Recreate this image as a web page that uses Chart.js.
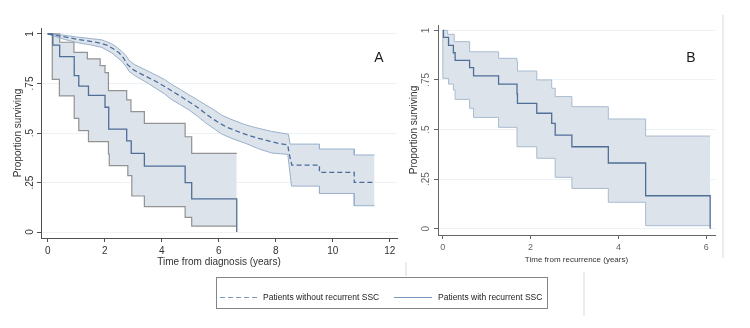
<!DOCTYPE html>
<html lang="en">
<head>
<meta charset="UTF-8">
<title>Survival by recurrence of SSC</title>
<style>
	body {
		margin: 0;
		width: 750px;
		height: 328px;
		position: relative;
		overflow: hidden;
		background: #fff;
		font-family: "Liberation Sans", Arial, sans-serif;
	}
	canvas { position: absolute; top: 0; }
	#chartA { left: 0; }
	#chartB { left: 400px; }
	.tag {
		position: absolute;
		font-size: 14px;
		color: #1a1a1a;
		transform: translate(-50%, -50%);
	}
	.rule { position: absolute; width: 2px; background: #e9edef; }
	.legend {
		position: absolute;
		left: 216px;
		top: 277px;
		width: 332px;
		height: 32px;
		box-sizing: border-box;
		border: 1px solid #858585;
		font-size: 8.5px;
		color: #222;
	}
	.legend span { position: absolute; top: 14px; line-height: 10px; white-space: nowrap; }
	.legend i { position: absolute; top: 19px; height: 1px; }
	.dash { background: repeating-linear-gradient(90deg, #7b98c0 0 5px, transparent 5px 8px); }
	.solid { background: #7896bd; }
</style>
<script src="https://cdn.jsdelivr.net/npm/chart.js"></script>
</head>
<body>
<canvas id="chartA" width="400" height="280"></canvas>
<canvas id="chartB" width="330" height="280"></canvas>
<div class="tag" style="left:379px; top:57px;">A</div>
<div class="tag" style="left:691px; top:57px;">B</div>
<div class="rule" style="left:722px; top:15px; height:243px;"></div>
<div class="rule" style="left:405px; top:262px; height:14px;"></div>
<div class="rule" style="left:583px; top:272px; height:44px;"></div>
<div class="legend">
	<i class="dash" style="left:3px; width:39px;"></i>
	<span style="left:46px;">Patients without recurrent SSC</span>
	<i class="solid" style="left:177px; width:38px;"></i>
	<span style="left:221px;">Patients with recurrent SSC</span>
</div>
<script>
	const FONT = '"Liberation Sans", Arial, sans-serif';

	// Panel A, patients without recurrent SSC (time from diagnosis, years)
	// many small steps, so corners are read as a traced outline; the tail steps are explicit
	const noRecTime  = [0, 0.3, 0.6, 1.0, 1.4, 1.8, 2.1, 2.3, 2.5, 2.65, 2.8, 3.0, 3.2, 3.5, 3.8, 4.1, 4.4, 4.7, 4.95, 5.25, 5.5, 5.75, 6.0, 6.3, 6.7, 7.0, 7.4, 7.8, 8.1, 8.42, 8.46, 8.52, 8.56, 9.53, 9.53, 10.75, 10.75, 11.46];
	const noRecSurv  = [1, 0.993, 0.985, 0.974, 0.965, 0.955, 0.942, 0.925, 0.905, 0.88, 0.845, 0.82, 0.803, 0.782, 0.76, 0.735, 0.708, 0.682, 0.658, 0.63, 0.602, 0.575, 0.552, 0.528, 0.506, 0.49, 0.473, 0.458, 0.447, 0.44, 0.40, 0.365, 0.338, 0.338, 0.301, 0.301, 0.251, 0.251];
	const noRecUpTime = [0, 0.5, 1.0, 1.5, 1.9, 2.25, 2.45, 2.6, 2.75, 2.85, 3.05, 3.3, 3.55, 3.8, 4.1, 4.35, 4.65, 4.95, 5.25, 5.55, 5.85, 6.1, 6.5, 6.9, 7.3, 7.85, 8.44, 8.5, 9.53, 9.53, 10.75, 10.75, 11.46];
	const noRecUp     = [1, 0.995, 0.985, 0.977, 0.97, 0.95, 0.93, 0.912, 0.89, 0.868, 0.845, 0.828, 0.81, 0.792, 0.77, 0.745, 0.72, 0.693, 0.668, 0.641, 0.615, 0.59, 0.565, 0.543, 0.527, 0.508, 0.494, 0.444, 0.444, 0.419, 0.419, 0.389, 0.389];
	const noRecLoTime = [0, 0.2, 0.6, 1.07, 1.5, 1.9, 2.25, 2.45, 2.6, 2.75, 2.85, 3.05, 3.3, 3.55, 3.8, 4.1, 4.35, 4.65, 4.95, 5.25, 5.55, 5.85, 6.1, 6.5, 6.92, 7.4, 7.86, 8.42, 8.47, 8.55, 9.53, 9.53, 10.75, 10.75, 11.46];
	const noRecLo     = [1, 0.99, 0.972, 0.955, 0.945, 0.932, 0.904, 0.88, 0.862, 0.835, 0.812, 0.79, 0.769, 0.748, 0.725, 0.697, 0.668, 0.643, 0.617, 0.585, 0.55, 0.52, 0.495, 0.47, 0.449, 0.42, 0.399, 0.392, 0.33, 0.232, 0.232, 0.195, 0.195, 0.133, 0.133];

	// Panel A, patients with recurrent SSC
	const recTime   = [0, 0.18, 0.42, 0.93, 1.09, 1.43, 2.01, 2.14, 2.77, 2.93, 3.39, 4.82, 5.05, 6.63];
	const recSurv   = [1, 0.944, 0.886, 0.79, 0.737, 0.69, 0.63, 0.52, 0.46, 0.397, 0.333, 0.25, 0.167, 0];
	const recUpTime = [0, 0.42, 0.92, 1.39, 1.84, 2.01, 2.13, 2.77, 2.92, 3.39, 4.82, 5.05, 6.63];
	const recUp     = [1, 0.958, 0.907, 0.874, 0.84, 0.805, 0.714, 0.667, 0.608, 0.549, 0.481, 0.397, 0.397];
	const recLoTime = [0, 0.16, 0.41, 0.93, 1.09, 1.43, 2.13, 2.16, 2.81, 2.95, 3.39, 4.82, 5.05, 6.63];
	const recLo     = [1, 0.771, 0.687, 0.574, 0.512, 0.456, 0.394, 0.335, 0.285, 0.182, 0.128, 0.074, 0.03, 0.03];

	// Panel B, time from recurrence (years)
	const bTime   = [0, 0.015, 0.13, 0.24, 0.28, 0.61, 0.70, 1.27, 1.69, 1.70, 2.14, 2.48, 2.56, 2.94, 3.77, 4.62, 6.09];
	const bSurv   = [1, 0.965, 0.924, 0.887, 0.849, 0.812, 0.77, 0.729, 0.679, 0.632, 0.582, 0.531, 0.472, 0.413, 0.331, 0.166, 0];
	const bUpTime = [0, 0.11, 0.26, 0.61, 1.27, 1.69, 1.70, 2.14, 2.48, 2.56, 2.94, 3.77, 4.62, 6.09];
	const bUp     = [1, 0.98, 0.943, 0.892, 0.859, 0.842, 0.795, 0.75, 0.708, 0.666, 0.615, 0.553, 0.467, 0.467];
	const bLoTime = [0, 0, 0.13, 0.24, 0.28, 0.61, 0.70, 1.27, 1.69, 2.14, 2.56, 2.94, 3.77, 4.62, 6.09];
	const bLo     = [1, 0.758, 0.729, 0.699, 0.652, 0.607, 0.561, 0.511, 0.413, 0.355, 0.259, 0.203, 0.133, 0.015, 0.015];

	const yTicks = [0, 0.25, 0.5, 0.75, 1];
	const xTicksA = [0, 2, 4, 6, 8, 10, 12];
	const xTicksB = [0, 2, 4, 6];

	const BAND = '#dde3ea';

	function pts(xs, ys) {
		return xs.map((x, i) => ({x: x, y: ys[i]}));
	}

	function step(xs, ys, color, extra) {
		return Object.assign({
			data: pts(xs, ys),
			stepped: 'before',
			borderColor: color,
			borderWidth: 1,
			pointRadius: 0,
			fill: false,
			order: 1
		}, extra || {});
	}

	function yLabel(v) {
		if (v === 0 || v === 1) return String(v);
		return String(v).replace(/^0/, '');
	}

	function makeScales(c) {
		return {
			x: {
				type: 'linear',
				min: c.xMin,
				max: c.xMax,
				afterBuildTicks: s => { s.ticks = c.xTicks.map(v => ({value: v})); },
				afterFit: s => { s.height = c.xHeight; },
				grid: { drawOnChartArea: false, tickLength: 4, tickColor: c.axis },
				border: { color: c.axis, width: 1 },
				ticks: { autoSkip: false, maxRotation: 0, padding: 3, color: c.tickColor, font: { family: FONT, size: c.xTickSize } },
				title: { display: true, text: c.xTitle, color: '#333', font: { family: FONT, size: c.xTitleSize }, padding: { top: 0, bottom: c.xTitlePad } }
			},
			y: {
				type: 'linear',
				min: c.yMin,
				max: c.yMax,
				afterBuildTicks: s => { s.ticks = yTicks.map(v => ({value: v})); },
				afterFit: s => { s.width = c.yWidth; },
				grid: { color: '#edf2f4', tickLength: 4, tickColor: c.axis },
				border: { color: c.axis, width: 1 },
				ticks: {
					autoSkip: false, minRotation: 90, maxRotation: 90, crossAlign: 'center',
					padding: c.yTickPad, color: c.tickColor, font: { family: FONT, size: 10 },
					callback: v => yLabel(v)
				},
				title: { display: true, text: 'Proportion surviving', color: '#333', font: { family: FONT, size: 10 }, padding: { top: c.yTitlePad, bottom: 0 } }
			}
		};
	}

	function baseOptions(scales, pad) {
		return {
			responsive: false,
			animation: false,
			layout: { padding: pad },
			plugins: {
				legend: { display: false },
				tooltip: { enabled: false },
				filler: { drawTime: 'beforeDatasetsDraw' }
			},
			scales: scales
		};
	}

	new Chart(document.getElementById('chartA'), {
		type: 'line',
		data: {
			datasets: [
				step(noRecLoTime, noRecLo, '#98b0cd', { stepped: false }),
				step(noRecUpTime, noRecUp, '#98b0cd', { stepped: false, fill: 0, backgroundColor: BAND }),
				step(noRecTime, noRecSurv, '#4a6d9c', { stepped: false, borderWidth: 1.3, borderDash: [5, 3], order: 0 }),
				step(recLoTime, recLo, '#929292', { borderWidth: 1.2 }),
				step(recUpTime, recUp, '#929292', { borderWidth: 1.2, fill: 3, backgroundColor: BAND }),
				step(recTime, recSurv, '#4f6f98', { borderWidth: 1.3, order: 0 })
			]
		},
		options: baseOptions(makeScales({
			xMin: -0.235, xMax: 12.25, xTicks: xTicksA, xHeight: 42,
			yMin: -0.03, yMax: 1.03, yWidth: 41,
			axis: '#505050', tickColor: '#333', xTickSize: 10, yTickPad: 0,
			xTitle: 'Time from diagnosis (years)', xTitleSize: 10, xTitlePad: 12, yTitlePad: 12
		}), { top: 28, right: 3, left: 0, bottom: 0 })
	});

	new Chart(document.getElementById('chartB'), {
		type: 'line',
		data: {
			datasets: [
				step(bLoTime, bLo, '#a8bbd0'),
				step(bUpTime, bUp, '#a8bbd0', { fill: 0, backgroundColor: BAND }),
				step(bTime, bSurv, '#4f6f98', { borderWidth: 1.3, order: 0 })
			]
		},
		options: baseOptions(makeScales({
			xMin: -0.11, xMax: 6.2, xTicks: xTicksB, xHeight: 45,
			yMin: -0.032, yMax: 1.027, yWidth: 38,
			axis: '#666', tickColor: '#666', xTickSize: 9, yTickPad: 1,
			xTitle: 'Time from recurrence (years)', xTitleSize: 8, xTitlePad: 15, yTitlePad: 8
		}), { top: 25, right: 15, left: 0, bottom: 0 })
	});
</script>
</body>
</html>
